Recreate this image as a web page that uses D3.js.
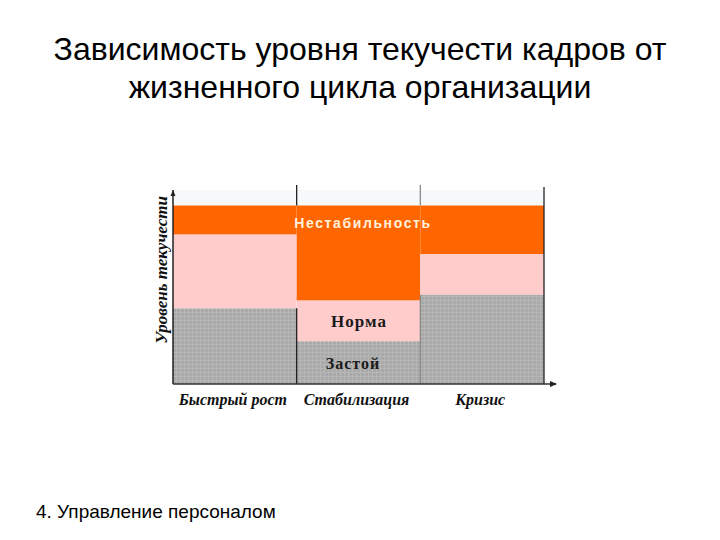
<!DOCTYPE html>
<html lang="ru">
<head>
    <meta charset="utf-8">
    <title>Текучесть кадров</title>
    <style type="text/css">
        body{
            margin: 0;
            background: #fff;
        }
        .title{
            font-family: "Liberation Sans", Arial, sans-serif;
            font-size: 32px;
            fill: #000;
        }
        .footer{
            font-family: "Liberation Sans", Arial, sans-serif;
            font-size: 19px;
            fill: #000;
        }
        .cat{
            font-family: "Liberation Serif", "Times New Roman", serif;
            font-style: italic;
            font-weight: bold;
            font-size: 16px;
            fill: #111;
        }
        .zone-light{
            font-family: "Liberation Sans", Arial, sans-serif;
            font-weight: bold;
            font-size: 14px;
            letter-spacing: 1.6px;
            fill: #fff0dc;
        }
        .zone-dark{
            font-family: "Liberation Serif", "Times New Roman", serif;
            font-weight: bold;
            fill: #1a1a1a;
            letter-spacing: 1px;
        }
    </style>
</head>
<body>
    <svg class="chart" width="720" height="540"></svg>

    <script src="https://cdnjs.cloudflare.com/ajax/libs/d3/7.8.5/d3.min.js"></script>
    <script>
        // данные: стадии жизненного цикла и границы зон (уровень текучести, 0..100)
        var stages = ['Быстрый рост', 'Стабилизация', 'Кризис'];
        var stagnationTop = [39, 22, 46];      // верх зоны "Застой"
        var normTop = [77, 43, 67];            // верх зоны "Норма"
        var instabilityTop = [92, 92, 92];     // верх зоны "Нестабильность"
        var titleLines = ['Зависимость уровня текучести кадров от', 'жизненного цикла организации'];

        var svg = d3.select('.chart'),
            plot = {left: 173, right: 544, top: 190, bottom: 384};

        var x = d3.scaleBand()
                    .domain(stages)
                    .range([plot.left, plot.right])
                    .padding(0);

        var y = d3.scaleLinear()
                    .domain([0, 100])
                    .range([plot.bottom, plot.top]);

        // заголовок
        svg.append('g')
            .selectAll('text')
            .data(titleLines)
            .enter()
            .append('text')
            .attr('class', 'title')
            .attr('x', 360)
            .attr('y', function(d, i){ return 60 + i * 38; })
            .attr('text-anchor', 'middle')
            .text(function(d){ return d; });

        // текстура серой зоны
        var defs = svg.append('defs');
        var pat = defs.append('pattern')
            .attr('id', 'grey')
            .attr('width', 4)
            .attr('height', 4)
            .attr('patternUnits', 'userSpaceOnUse');
        pat.append('rect').attr('width', 4).attr('height', 4).attr('fill', '#a9a9a9');
        pat.append('path').attr('d', 'M0,0.5H4M0.5,0V4')
            .attr('stroke', '#b6b6b6').attr('stroke-width', 1);

        var g = svg.append('g');

        // бледная полоса сверху
        g.append('rect')
            .attr('x', plot.left)
            .attr('y', plot.top)
            .attr('width', plot.right - plot.left)
            .attr('height', y(instabilityTop[0]) - plot.top)
            .attr('fill', '#f6f9fc');

        var rows = stages.map(function(s, i){
            return {stage: s, zastoy: stagnationTop[i], norma: normTop[i], top: instabilityTop[i]};
        });

        var col = g.selectAll('.col')
            .data(rows)
            .enter()
            .append('g')
            .attr('class', 'col');

        col.append('rect')
            .attr('x', function(d){ return x(d.stage); })
            .attr('width', x.bandwidth())
            .attr('y', function(d){ return y(d.top); })
            .attr('height', function(d){ return y(d.norma) - y(d.top); })
            .attr('fill', '#ff6600');

        col.append('rect')
            .attr('x', function(d){ return x(d.stage); })
            .attr('width', x.bandwidth())
            .attr('y', function(d){ return y(d.norma); })
            .attr('height', function(d){ return y(d.zastoy) - y(d.norma); })
            .attr('fill', '#ffcccc');

        col.append('rect')
            .attr('x', function(d){ return x(d.stage); })
            .attr('width', x.bandwidth())
            .attr('y', function(d){ return y(d.zastoy); })
            .attr('height', function(d){ return y(0) - y(d.zastoy); })
            .attr('fill', 'url(#grey)');

        // разделители стадий: над графиком и в серой зоне
        var divs = [
            {x: x(stages[1]), c: '#222', low: Math.max(stagnationTop[0], stagnationTop[1])},
            {x: x(stages[2]), c: '#8a8a8a', low: Math.max(stagnationTop[1], stagnationTop[2])}
        ];
        divs.forEach(function(d){
            g.append('line')
                .attr('x1', d.x).attr('x2', d.x)
                .attr('y1', 185).attr('y2', y(instabilityTop[0]))
                .attr('stroke', d.c).attr('stroke-width', 1.3);
            g.append('line')
                .attr('x1', d.x).attr('x2', d.x)
                .attr('y1', y(d.low)).attr('y2', plot.bottom)
                .attr('stroke', d.c).attr('stroke-width', 1.3);
        });
        g.append('line')
            .attr('x1', plot.right).attr('x2', plot.right)
            .attr('y1', 187).attr('y2', plot.bottom)
            .attr('stroke', '#222').attr('stroke-width', 1.3);

        // оси со стрелками
        g.append('line')
            .attr('x1', plot.left).attr('x2', plot.left)
            .attr('y1', plot.bottom).attr('y2', plot.top)
            .attr('stroke', '#222').attr('stroke-width', 1.5);
        g.append('path')
            .attr('d', 'M' + (plot.left - 2.5) + ',' + (plot.top + 6) + 'L' + plot.left + ',' + plot.top + 'L' + (plot.left + 2.5) + ',' + (plot.top + 6) + 'Z')
            .attr('fill', '#222');
        g.append('line')
            .attr('x1', plot.left).attr('x2', 556)
            .attr('y1', plot.bottom).attr('y2', plot.bottom)
            .attr('stroke', '#333').attr('stroke-width', 1.5);
        g.append('path')
            .attr('d', 'M550,' + (plot.bottom - 3) + 'L557,' + plot.bottom + 'L550,' + (plot.bottom + 3) + 'Z')
            .attr('fill', '#222');

        // подписи зон
        g.append('text')
            .attr('class', 'zone-light')
            .attr('x', 363)
            .attr('y', 228)
            .attr('text-anchor', 'middle')
            .text('Нестабильность');
        g.append('text')
            .attr('class', 'zone-dark')
            .attr('x', 359)
            .attr('y', 327)
            .attr('text-anchor', 'middle')
            .style('font-size', '17px')
            .text('Норма');
        g.append('text')
            .attr('class', 'zone-dark')
            .attr('x', 353)
            .attr('y', 369)
            .attr('text-anchor', 'middle')
            .style('font-size', '16px')
            .text('Застой');

        // подписи стадий
        g.selectAll('.cat')
            .data(stages)
            .enter()
            .append('text')
            .attr('class', 'cat')
            .attr('x', function(d){ return x(d) + x.bandwidth() / 2 - 2; })
            .attr('y', 405)
            .attr('text-anchor', 'middle')
            .text(function(d){ return d; });

        // подпись оси Y
        g.append('text')
            .attr('class', 'cat')
            .attr('transform', 'translate(167,270) rotate(-90)')
            .attr('text-anchor', 'middle')
            .style('font-size', '17px')
            .text('Уровень текучести');

        svg.append('text')
            .attr('class', 'footer')
            .attr('x', 36)
            .attr('y', 518)
            .text('4. Управление персоналом');
    </script>
</body>
</html>
